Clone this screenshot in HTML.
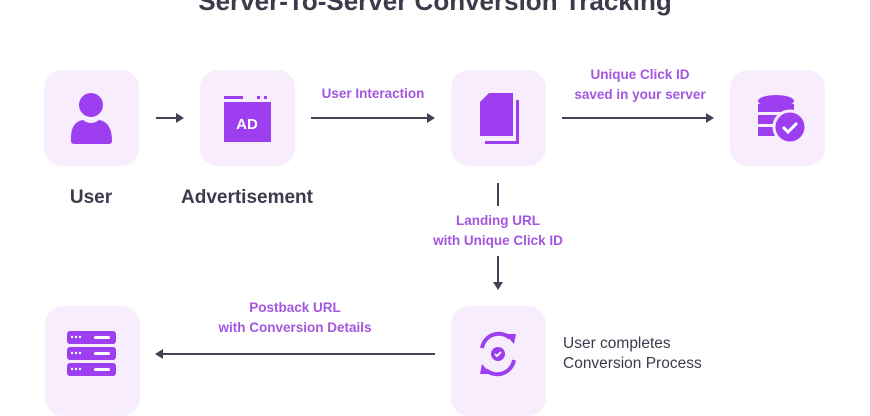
<!DOCTYPE html>
<html><head><meta charset="utf-8"><style>
body{margin:0;width:870px;height:400px;overflow:hidden;background:#fff;font-family:"Liberation Sans",sans-serif;position:relative}
.b{position:absolute;width:95px;height:96px;background:#f8edfd;border-radius:18px}
.t{position:absolute;white-space:nowrap;transform:translateX(-50%);text-align:center}
.p{color:#a456df;font-size:13.5px;line-height:20px;font-weight:bold}
.k{color:#3e3a4c;font-size:19px;font-weight:bold}
</style></head><body>
<div class="t" style="left:435px;top:-14px;font-size:26px;font-weight:bold;color:#3e3a4c">Server-To-Server Conversion Tracking</div>
<div class="b" style="left:44px;top:70px"></div>
<div class="b" style="left:200px;top:70px"></div>
<div class="b" style="left:451px;top:70px"></div>
<div class="b" style="left:730px;top:70px"></div>
<div class="b" style="left:45px;top:306px;height:110px"></div>
<div class="b" style="left:451px;top:306px;height:110px"></div>
<svg width="870" height="400" style="position:absolute;left:0;top:0">
<g fill="#9d3ff0">
<circle cx="91" cy="105" r="12"/>
<path d="M71 141 Q70 122 83 120 Q91 126 99 120 Q112 122 112 141 Q112 144 108 144 L75 144 Q71 144 71 141Z"/>
<rect x="224" y="96" width="19" height="3"/><rect x="257" y="96" width="3" height="3"/><rect x="264" y="96" width="3" height="3"/>
<rect x="224" y="102" width="47" height="40"/>
<path d="M489 93 L480 102 L480 136 L513 136 L513 93Z"/>
<path d="M516 100 L519 100 L519 144 L485 144 L485 141 L516 141Z"/>
<ellipse cx="776" cy="101" rx="18" ry="6"/>
<rect x="758" y="104" width="36" height="8"/><rect x="758" y="115" width="30" height="9"/><rect x="758" y="127" width="26" height="9"/>
<circle cx="790" cy="127" r="16" stroke="#f8edfd" stroke-width="3"/>
<rect x="67" y="331" width="49" height="13" rx="3"/><rect x="67" y="347" width="49" height="13" rx="3"/><rect x="67" y="363" width="49" height="13" rx="3"/>
<circle cx="498" cy="354" r="7"/>
</g>
<text x="247" y="129" font-size="15" font-weight="bold" fill="#fff" text-anchor="middle" font-family="Liberation Sans">AD</text>
<path d="M783 127 l5 5 l9 -9" stroke="#fff" stroke-width="3" fill="none"/>
<path d="M495 354 l2 2 l4 -4" stroke="#fff" stroke-width="1.8" fill="none"/>
<g fill="#fff"><circle cx="72" cy="337" r="1.2"/><circle cx="76" cy="337" r="1.2"/><circle cx="80" cy="337" r="1.2"/><rect x="94" y="336" width="16" height="3" rx="1.5"/>
<circle cx="72" cy="353" r="1.2"/><circle cx="76" cy="353" r="1.2"/><circle cx="80" cy="353" r="1.2"/><rect x="94" y="352" width="16" height="3" rx="1.5"/>
<circle cx="72" cy="369" r="1.2"/><circle cx="76" cy="369" r="1.2"/><circle cx="80" cy="369" r="1.2"/><rect x="94" y="368" width="16" height="3" rx="1.5"/></g>
<g fill="none" stroke="#9d3ff0" stroke-width="4">
<path d="M482 348 A17 17 0 0 1 510 338"/><path d="M514 360 A17 17 0 0 1 486 370"/>
</g>
<path d="M505 334 L516 334 L514 344Z M491 374 L480 374 L482 364Z" fill="#9d3ff0"/>
<g stroke="#463f55" stroke-width="2" fill="#463f55">
<line x1="156" y1="118" x2="177" y2="118"/><path d="M184 118 l-8 -5 v10z" stroke="none"/>
<line x1="311" y1="118" x2="428" y2="118"/><path d="M435 118 l-8 -5 v10z" stroke="none"/>
<line x1="562" y1="118" x2="707" y2="118"/><path d="M714 118 l-8 -5 v10z" stroke="none"/>
<line x1="498" y1="183" x2="498" y2="206"/>
<line x1="498" y1="256" x2="498" y2="282"/><path d="M498 290 l-5 -8 h10z" stroke="none"/>
<line x1="435" y1="354" x2="162" y2="354"/><path d="M155 354 l8 -5 v10z" stroke="none"/>
</g>
</svg>
<div class="t p" style="left:373px;top:84px">User Interaction</div>
<div class="t p" style="left:640px;top:65px">Unique Click ID<br>saved in your server</div>
<div class="t p" style="left:498px;top:211px">Landing URL<br>with Unique Click ID</div>
<div class="t p" style="left:295px;top:298px">Postback URL<br>with Conversion Details</div>
<div class="t k" style="left:91px;top:187px">User</div>
<div class="t k" style="left:247px;top:187px">Advertisement</div>
<div style="position:absolute;left:563px;top:334px;font-size:15.5px;line-height:20px;color:#3e3a4c">User completes<br>Conversion Process</div>
</body></html>
